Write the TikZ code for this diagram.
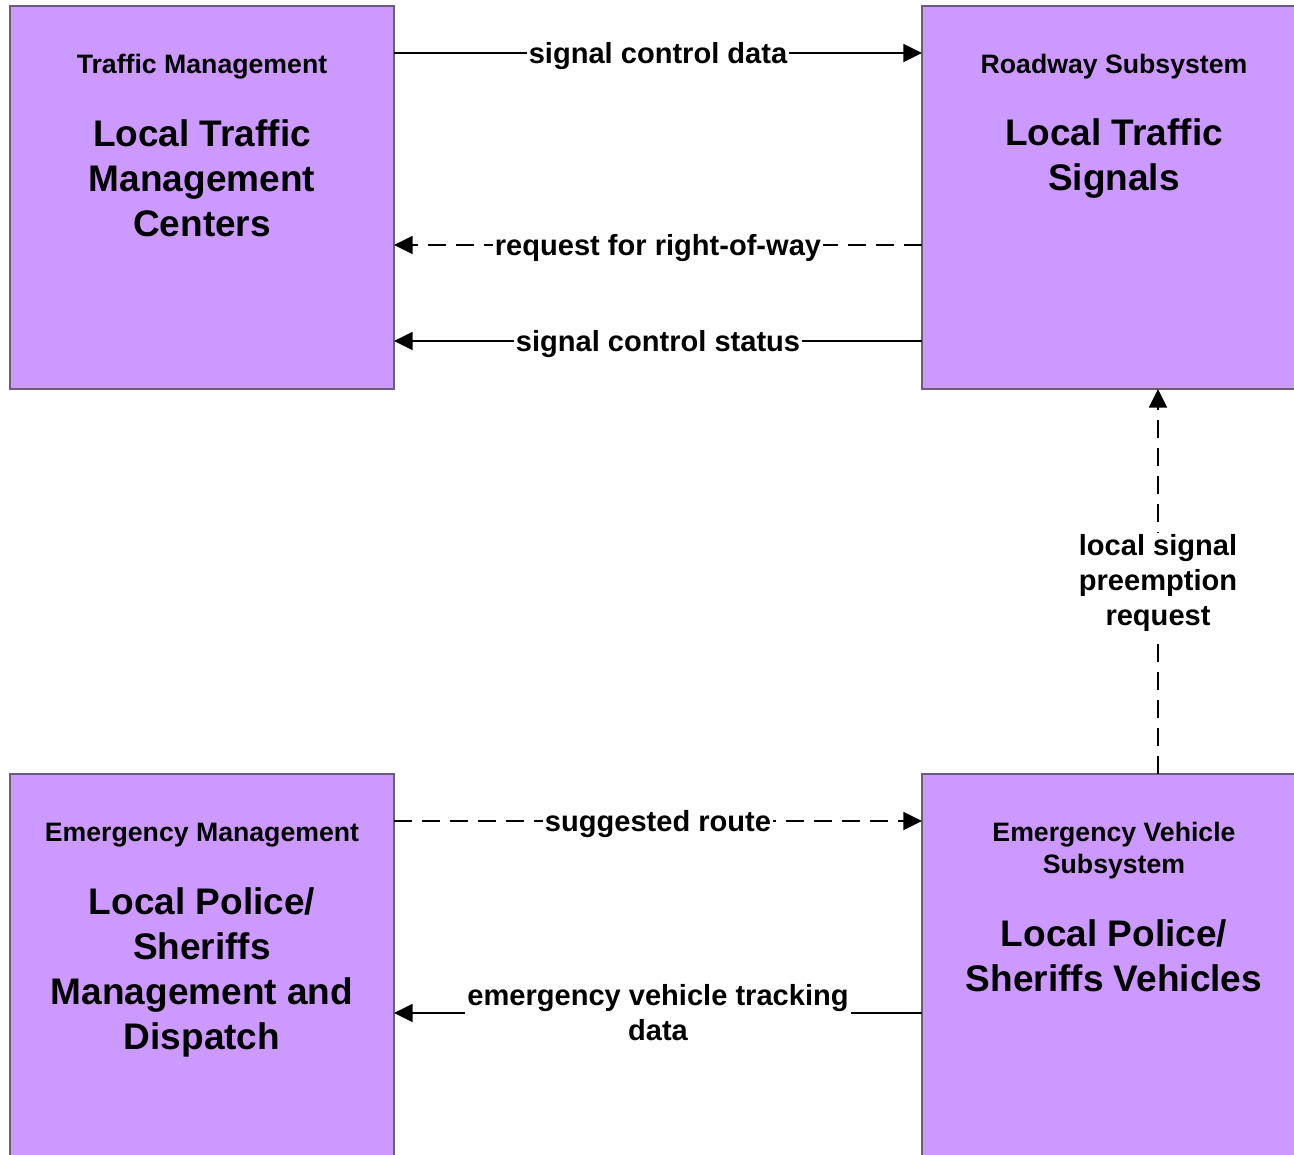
\documentclass[tikz,border=0pt]{standalone}
\usepackage{fontspec}
\setmainfont{Liberation Sans}
\usetikzlibrary{arrows.meta}
\definecolor{boxfill}{HTML}{CC99FF}
\definecolor{boxline}{HTML}{6B5F78}
\begin{document}
\begin{tikzpicture}[x=0.75pt,y=-0.75pt,
  box/.style={draw=boxline,line width=0.9pt,fill=boxfill,minimum width=288pt,minimum height=287.25pt,anchor=north west,inner sep=0pt,outer sep=0pt},
  smalltitle/.style={font=\bfseries\fontsize{20}{24}\selectfont,align=center,inner sep=0pt},
  bigtitle/.style={font=\bfseries\fontsize{27.75}{33.75}\selectfont,align=center,inner sep=0pt},
  lab/.style={font=\bfseries\fontsize{21.8}{26.25}\selectfont,align=center,fill=white,inner sep=1.5pt},
  onelab/.style={lab,yshift=-2.25pt},
  flow/.style={line width=1.5pt,-{Triangle[length=14pt,width=13.5pt]}},
  dsh/.style={dash pattern=on 13.5pt off 7.5pt}
]
\useasboundingbox (0,0) rectangle (1294,1154);
\fill[white] (0,0) rectangle (1294,1154);
\node[box] (tl) at (10,6) {};
\node[box] (tr) at (922,6) {};
\node[box] (bl) at (10,774) {};
\node[box] (br) at (922,774) {};

\node[smalltitle] (tlt) at (202,67) {Traffic Management};
\node[bigtitle] (tlb) at (202,178) {Local Traffic\\Management\\Centers};
\node[smalltitle] (trt) at (1114,67) {Roadway Subsystem};
\node[bigtitle] (trb) at (1114,159) {Local Traffic\\Signals};
\node[smalltitle] (blt) at (202,835) {Emergency Management};
\node[bigtitle] (blb) at (202,972) {Local Police/\\Sheriffs\\Management and\\Dispatch};
\node[smalltitle] (brt) at (1114,851) {Emergency Vehicle\\Subsystem};
\node[bigtitle] (brb) at (1114,956) {Local Police/\\Sheriffs Vehicles};

\coordinate (y1) at (0,53);
\coordinate (y2) at (0,245);
\coordinate (y3) at (0,341);
\coordinate (y5) at (0,821);
\coordinate (y6) at (0,1013);
\coordinate (x4) at (1158,0);

\draw[flow] (tl.east |- y1) -- (tr.west |- y1) node[onelab,midway] (l1) {signal control data};
\draw[flow,dsh] (tr.west |- y2) -- (tl.east |- y2) node[onelab,midway] (l2) {request for right-of-way};
\draw[flow] (tr.west |- y3) -- (tl.east |- y3) node[onelab,midway] (l3) {signal control status};
\draw[flow,dsh] (br.north -| x4) -- (tr.south -| x4) node[lab,pos=0.495] (l4) {local signal\\preemption\\request};
\draw[flow,dsh] (bl.east |- y5) -- (br.west |- y5) node[onelab,midway] (l5) {suggested route};
\draw[flow] (br.west |- y6) -- (bl.east |- y6) node[lab,midway] (l6) {emergency vehicle tracking\\data};
\end{tikzpicture}
\end{document}
